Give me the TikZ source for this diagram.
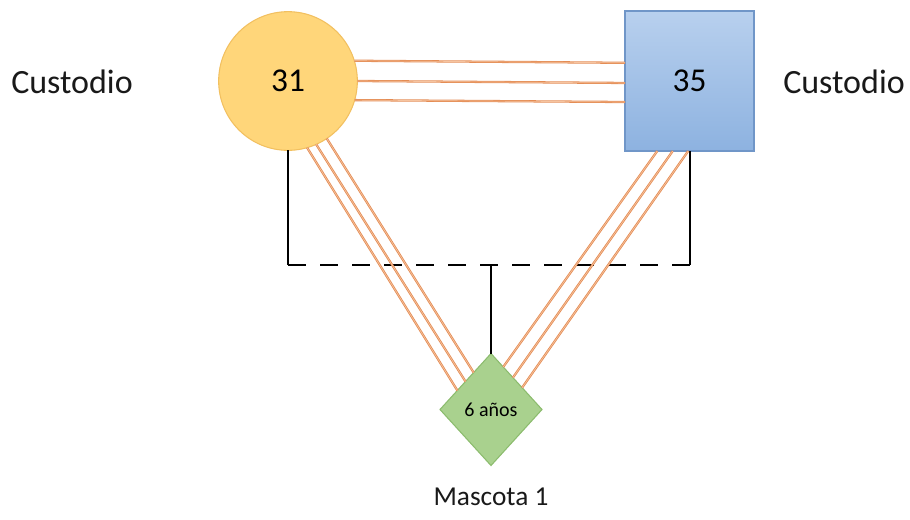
\documentclass[tikz,border=0pt]{standalone}
\usepackage{fontspec}
\setmainfont{Carlito}
\usepackage{tikz}
\usetikzlibrary{calc}
\usetikzlibrary{shapes.geometric}

\definecolor{tiecol}{RGB}{228,140,84}
\definecolor{tiemid}{RGB}{246,196,160}
\definecolor{circfill}{RGB}{255,214,122}
\definecolor{circline}{RGB}{242,192,96}
\definecolor{sqtop}{RGB}{184,208,238}
\definecolor{sqbot}{RGB}{141,178,224}
\definecolor{sqline}{RGB}{112,150,200}
\definecolor{diafill}{RGB}{169,209,142}
\definecolor{dialine}{RGB}{140,188,110}

\begin{document}
\begin{tikzpicture}[x=0.75pt,y=-0.75pt,
        tie/.style={color=tiecol,line width=0.6pt,double=tiemid,double distance=0.5pt},
        link/.style={black,line width=1.5pt},
        label/.style={font=\fontsize{25.5}{30}\selectfont,text=black!90}]
        \useasboundingbox (0,0) rectangle (910,519);
        \node [circle,draw=circline,fill=circfill,line width=0.8pt,minimum size=104pt,inner sep=0pt,outer sep=0pt,font=\fontsize{25}{30}\selectfont] (c) at (288,81) {31};
        \node [rectangle,draw=sqline,top color=sqtop,bottom color=sqbot,line width=0.8pt,minimum width=96.75pt,minimum height=105pt,inner sep=0pt,outer sep=0pt,font=\fontsize{25}{30}\selectfont] (s) at (689.5,81) {35};
        \node [diamond,draw=dialine,fill=diafill,line width=0.8pt,minimum width=76.5pt,minimum height=84pt,inner sep=0pt,outer sep=0pt,font=\fontsize{15}{18}\selectfont] (m) at (491,409.5) {6 años};
        \node [label] (cl) at (72,82) {Custodio};
        \node [label] (cr) at (844,82) {Custodio};
        \node [font=\fontsize{20.5}{24}\selectfont,text=black!90] (ml) at (491,497) {Mascota 1};
        \coordinate (bar) at (491,265);
        \draw [link] (c.south) -- (c.south |- bar);
        \draw [link,dash pattern=on 13.5pt off 10.5pt] (c.south |- bar) -- (s.south |- bar);
        \draw [link] (s.south |- bar) -- (s.south);
        \draw [link] (m.north) -- (bar);
        \draw [tie] (c.17) -- ($(s.north west)!0.37!(s.south west)$);
        \draw [tie] (c.0) -- ($(s.north west)!0.514!(s.south west)$);
        \draw [tie] (c.-16) -- ($(s.north west)!0.65!(s.south west)$);
        \draw [tie] (c.-56) -- ($(m.north)!0.34!(m.west)$);
        \draw [tie] (c.-66) -- ($(m.north)!0.5!(m.west)$);
        \draw [tie] (c.-74) -- ($(m.north)!0.66!(m.west)$);
        \draw [tie] ($(s.south west)!0.25!(s.south east)$) -- ($(m.north)!0.24!(m.east)$);
        \draw [tie] ($(s.south west)!0.37!(s.south east)$) -- ($(m.north)!0.43!(m.east)$);
        \draw [tie] ($(s.south west)!0.49!(s.south east)$) -- ($(m.north)!0.61!(m.east)$);
    \end{tikzpicture}
\end{document}
